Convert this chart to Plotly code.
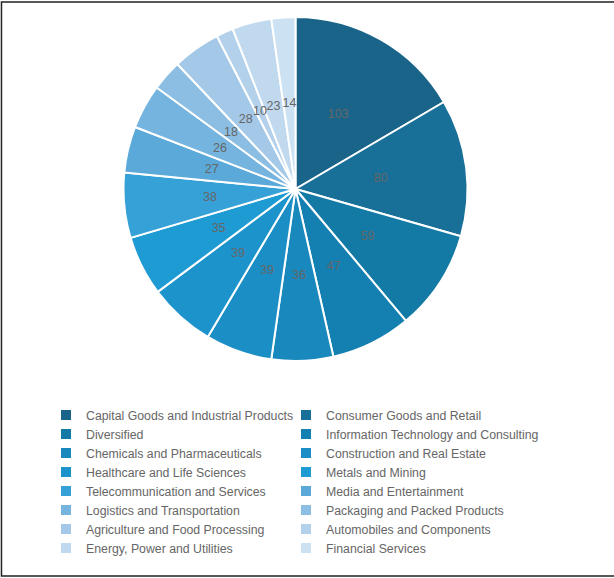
import plotly.graph_objects as go

categories = [
    "Capital Goods and Industrial Products",
    "Consumer Goods and Retail",
    "Diversified",
    "Information Technology and Consulting",
    "Chemicals and Pharmaceuticals",
    "Construction and Real Estate",
    "Healthcare and Life Sciences",
    "Metals and Mining",
    "Telecommunication and Services",
    "Media and Entertainment",
    "Logistics and Transportation",
    "Packaging and Packed Products",
    "Agriculture and Food Processing",
    "Automobiles and Components",
    "Energy, Power and Utilities",
    "Financial Services",
]
values = [103, 80, 59, 47, 36, 39, 39, 35, 38, 27, 26, 18, 28, 10, 23, 14]
colors = [
    "#1b6489", "#186f98", "#137aa5", "#147fb1", "#1988bd", "#1b8ec5",
    "#1d93cc", "#1f9bd3", "#36a1d7", "#5aa9d9", "#74b4de", "#8cbee3",
    "#a3c8e8", "#b3d1eb", "#c0d9ee", "#cce1f2",
]

W, H = 614, 578
CX, CY, R = 295.5, 189.0, 172.0      # pie centre / radius in px
LABEL_R = 0.5 * R                     # value labels sit half-way out

pie_domain = dict(x=[(CX - R) / W, (CX + R) / W],
                  y=[1 - (CY + R) / H, 1 - (CY - R) / H])
lab_domain = dict(x=[(CX - LABEL_R) / W, (CX + LABEL_R) / W],
                  y=[1 - (CY + LABEL_R) / H, 1 - (CY - LABEL_R) / H])

# label ring: a transparent pie whose tiny slices sit on each slice's mid-angle
eps = 0.01
lab_vals, lab_text = [], []
prev_half = 0.0
for v in values:
    lab_vals.append(prev_half + v / 2 - eps)
    lab_text.append("")
    lab_vals.append(eps)
    lab_text.append(str(v))
    prev_half = v / 2
lab_vals.append(prev_half)
lab_text.append("")

fig = go.Figure()
fig.add_trace(go.Pie(
    labels=categories,
    values=values,
    sort=False,
    direction="clockwise",
    rotation=0,
    marker=dict(colors=colors, line=dict(color="white", width=2)),
    textinfo="none",
    domain=pie_domain,
    hoverinfo="label+value",
))
fig.add_trace(go.Pie(
    labels=[f"_lab{i}" for i in range(len(lab_vals))],
    values=lab_vals,
    text=lab_text,
    textinfo="text",
    textposition="inside",
    insidetextorientation="horizontal",
    textfont=dict(family="Liberation Sans, Arial", size=12.5, color="#666666"),
    sort=False,
    direction="clockwise",
    rotation=0,
    marker=dict(colors=["rgba(0,0,0,0)"] * len(lab_vals), line=dict(width=0)),
    domain=lab_domain,
    hoverinfo="skip",
    showlegend=False,
))

fig.update_layout(
    width=W, height=H,
    margin=dict(l=0, r=0, t=0, b=0),
    paper_bgcolor="white",
    showlegend=True,
    uniformtext=dict(minsize=12.5, mode="show"),
    legend=dict(
        orientation="h",
        x=61 / W, y=1 - 400.5 / H, xanchor="left", yanchor="top",
        entrywidth=210, entrywidthmode="pixels",
        indentation=-15,
        font=dict(family="Liberation Sans, Arial", size=12.3, color="#666666"),
        traceorder="normal",
        bgcolor="rgba(0,0,0,0)",
    ),
    shapes=[dict(type="rect", xref="paper", yref="paper",
                 x0=0.0024, y0=0.0035, x1=1.05, y1=0.9965,
                 line=dict(color="#222222", width=1.5), layer="above")],
)

fig.write_html("out.html")
